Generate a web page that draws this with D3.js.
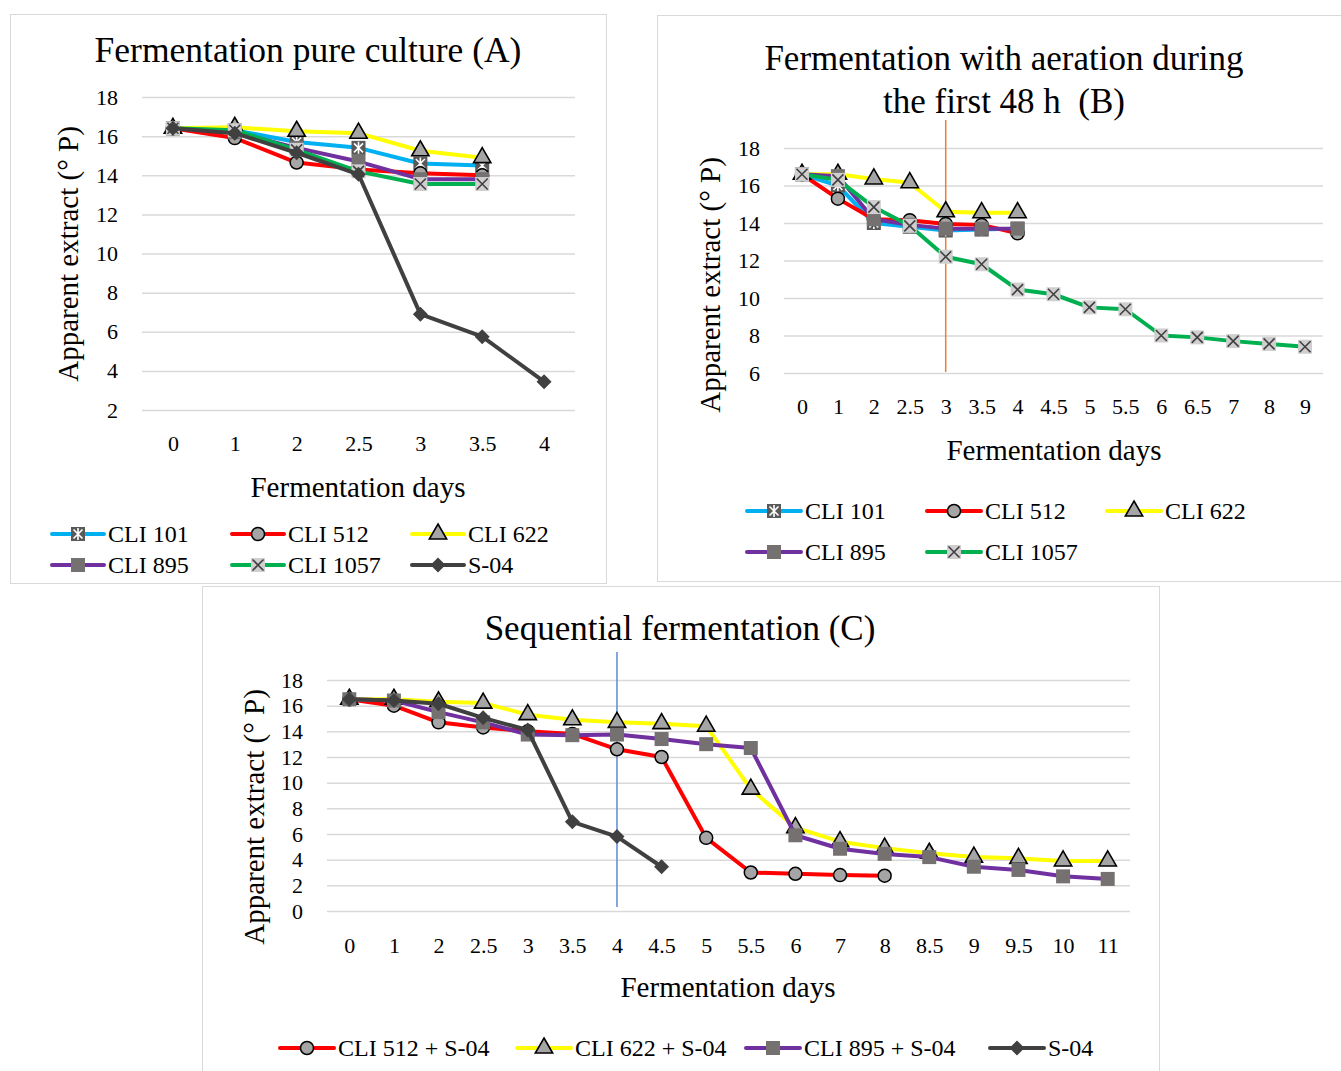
<!DOCTYPE html>
<html>
<head>
<meta charset="utf-8">
<script src="https://cdn.jsdelivr.net/npm/d3@7"></script>
<style>
  body { margin: 0; background: #fff; }
  svg { font-family: "Liberation Serif", "DejaVu Serif", serif; }
  text { white-space: pre; }
</style>
</head>
<body>
<svg id="chart" width="1341" height="1071"></svg>
<script>
// ---- data ----
const daysA = ['0', '1', '2', '2.5', '3', '3.5', '4'];
const a101 = [16.4, 16.3, 15.7, 15.4, 14.6, 14.5];
const a512 = [16.4, 15.9, 14.65, 14.3, 14.1, 14.0];
const a622 = [16.4, 16.45, 16.25, 16.15, 15.25, 14.9];
const a895 = [16.4, 16.2, 15.4, 14.7, 13.8, 13.8];
const a1057 = [16.4, 16.3, 15.3, 14.2, 13.55, 13.55];
const aS04 = [16.4, 16.15, 15.15, 14.05, 6.9, 5.75, 3.45];
const ticksA = [2, 4, 6, 8, 10, 12, 14, 16, 18];

const daysB = ['0', '1', '2', '2.5', '3', '3.5', '4', '4.5', '5', '5.5', '6', '6.5', '7', '8', '9'];
const b101 = [16.6, 16.0, 14.0, 13.8, 13.6, 13.65, 13.7];
const b512 = [16.6, 15.3, 14.2, 14.15, 13.95, 13.9, 13.45];
const b622 = [16.6, 16.6, 16.35, 16.15, 14.6, 14.55, 14.55];
const b895 = [16.6, 16.5, 14.2, 13.9, 13.7, 13.7, 13.7];
const b1057 = [16.6, 16.3, 14.85, 13.85, 12.2, 11.8, 10.45, 10.2, 9.5, 9.4, 8.0, 7.9, 7.7, 7.55, 7.4];
const ticksB = [6, 8, 10, 12, 14, 16, 18];

const daysC = ['0', '1', '2', '2.5', '3', '3.5', '4', '4.5', '5', '5.5', '6', '7', '8', '8.5', '9', '9.5', '10', '11'];
const c512 = [16.5, 16.0, 14.7, 14.3, 14.0, 13.8, 12.6, 12.0, 5.7, 3.0, 2.9, 2.8, 2.75];
const c622 = [16.5, 16.5, 16.3, 16.2, 15.3, 14.9, 14.7, 14.6, 14.4, 9.5, 6.5, 5.4, 4.9, 4.5, 4.2, 4.1, 3.9, 3.9];
const c895 = [16.5, 16.4, 15.5, 14.7, 13.75, 13.7, 13.75, 13.4, 13.0, 12.7, 5.9, 4.85, 4.45, 4.2, 3.45, 3.2, 2.7, 2.5];
const cS04 = [16.5, 16.4, 16.15, 15.05, 14.1, 6.95, 5.8, 3.45];
const ticksC = [0, 2, 4, 6, 8, 10, 12, 14, 16, 18];

// ---- styles per strain ----
const STYLE = {
  'CLI 101': { color: '#00b0f0', marker: 'star' },
  'CLI 512': { color: '#ff0000', marker: 'circle' },
  'CLI 622': { color: '#ffff00', marker: 'triangle' },
  'CLI 895': { color: '#7030a0', marker: 'square' },
  'CLI 1057': { color: '#00b050', marker: 'xbox' },
  'S-04': { color: '#404040', marker: 'diamond' }
};

const FONT = '"Liberation Serif", "DejaVu Serif", serif';
const svg = d3.select('#chart');

function drawMarker(g, type, x, y) {
  const m = g.append('g').attr('transform', `translate(${x},${y})`);
  if (type === 'circle') {
    m.append('circle').attr('r', 6.5).attr('fill', '#a5a5a5').attr('stroke', '#000').attr('stroke-width', 1.5);
  } else if (type === 'triangle') {
    m.append('path').attr('d', d3.symbol(d3.symbolTriangle, 130)())
      .attr('fill', '#a5a5a5').attr('stroke', '#000').attr('stroke-width', 1.6);
  } else if (type === 'square') {
    m.append('rect').attr('x', -7).attr('y', -7).attr('width', 14).attr('height', 14).attr('fill', '#767171');
  } else if (type === 'diamond') {
    m.append('path').attr('d', 'M0,-7.5L7.5,0L0,7.5L-7.5,0Z').attr('fill', '#404040');
  } else if (type === 'star') {
    m.append('rect').attr('x', -7).attr('y', -7).attr('width', 14).attr('height', 14).attr('fill', '#595959');
    m.append('path').attr('d', 'M-4.5,-4.5L4.5,4.5M4.5,-4.5L-4.5,4.5M0,-6L0,6')
      .attr('stroke', '#fff').attr('stroke-width', 1.6);
  } else if (type === 'xbox') {
    m.append('rect').attr('x', -7).attr('y', -7).attr('width', 14).attr('height', 14).attr('fill', '#d0cece');
    m.append('path').attr('d', 'M-5.5,-5.5L5.5,5.5M5.5,-5.5L-5.5,5.5')
      .attr('stroke', '#404040').attr('stroke-width', 1.6);
  }
}

function drawPanel(p) {
  const g = svg.append('g');
  g.append('rect')
    .attr('x', p.box[0] + 0.5).attr('y', p.box[1] + 0.5)
    .attr('width', p.box[2]).attr('height', p.box[3])
    .attr('fill', '#fff').attr('stroke', '#d9d9d9');

  const x = d3.scalePoint().domain(p.days).range([p.plot[0], p.plot[1]]).padding(0.5);
  const y = d3.scaleLinear().domain(p.yDomain).range([p.plot[3], p.plot[2]]);

  // gridlines + y labels
  const grid = g.append('g')
    .attr('transform', `translate(${p.plot[0]},0)`)
    .call(d3.axisLeft(y).tickValues(p.ticks).tickSize(-(p.plot[1] - p.plot[0])).tickPadding(24))
    .attr('font-family', FONT).attr('font-size', 22);
  grid.select('.domain').remove();
  grid.selectAll('line').attr('stroke', '#d9d9d9').attr('stroke-width', 1.5);
  grid.selectAll('text').attr('fill', '#000');

  // x labels
  const xa = g.append('g')
    .attr('transform', `translate(0,${p.plot[3]})`)
    .call(d3.axisBottom(x).tickSize(0).tickPadding(p.xPad))
    .attr('font-family', FONT).attr('font-size', 22);
  xa.select('.domain').remove();
  xa.selectAll('text').attr('fill', '#000');

  // reference line
  if (p.vline) {
    g.append('line')
      .attr('x1', x(p.vline.day)).attr('x2', x(p.vline.day))
      .attr('y1', p.vline.y[0]).attr('y2', p.vline.y[1])
      .attr('stroke', p.vline.color).attr('stroke-width', 1.5);
  }

  // titles
  p.title.forEach((t, i) => {
    g.append('text').attr('x', p.titlePos[0]).attr('y', p.titlePos[1] + i * 43)
      .attr('text-anchor', 'middle').attr('font-size', p.titleSize).text(t);
  });
  g.append('text')
    .attr('transform', `translate(${p.yLabelPos[0]},${p.yLabelPos[1]}) rotate(-90)`)
    .attr('text-anchor', 'middle').attr('font-size', 29).text('Apparent extract (° P)');
  g.append('text').attr('x', p.xLabelPos[0]).attr('y', p.xLabelPos[1])
    .attr('text-anchor', 'middle').attr('font-size', 29).text('Fermentation days');

  // series
  const line = d3.line().x((d, i) => x(p.days[i])).y(d => y(d));
  p.series.forEach(s => {
    const st = STYLE[s.style];
    g.append('path').datum(s.values).attr('d', line)
      .attr('fill', 'none').attr('stroke', st.color).attr('stroke-width', 4)
      .attr('stroke-linejoin', 'round').attr('stroke-linecap', 'round');
    const mg = g.append('g');
    s.values.forEach((v, i) => drawMarker(mg, st.marker, x(p.days[i]), y(v)));
  });

  // legend
  p.series.forEach((s, i) => {
    const st = STYLE[s.style];
    const [lx, ly] = p.legend[i];
    const lg = g.append('g');
    lg.append('line').attr('x1', lx).attr('x2', lx + p.legendLen).attr('y1', ly).attr('y2', ly)
      .attr('stroke', st.color).attr('stroke-width', 4).attr('stroke-linecap', 'round');
    drawMarker(lg, st.marker, lx + p.legendLen / 2, ly);
    lg.append('text').attr('x', lx + p.legendLen + 4).attr('y', ly + 8)
      .attr('font-size', 24).text(s.label);
  });
}

drawPanel({
  box: [10, 14, 596, 569],
  plot: [142, 575, 97, 410],
  days: daysA, yDomain: [2, 18], ticks: ticksA, xPad: 25,
  title: ['Fermentation pure culture (A)'], titlePos: [308, 62], titleSize: 35.5,
  yLabelPos: [78, 254], xLabelPos: [358, 497],
  series: [
    { label: 'CLI 101', style: 'CLI 101', values: a101 },
    { label: 'CLI 512', style: 'CLI 512', values: a512 },
    { label: 'CLI 622', style: 'CLI 622', values: a622 },
    { label: 'CLI 895', style: 'CLI 895', values: a895 },
    { label: 'CLI 1057', style: 'CLI 1057', values: a1057 },
    { label: 'S-04', style: 'S-04', values: aS04 }
  ],
  legend: [[52, 534], [232, 534], [412, 534], [52, 565], [232, 565], [412, 565]],
  legendLen: 52
});

drawPanel({
  box: [657, 15, 684, 566],
  plot: [784, 1323, 148, 373],
  days: daysB, yDomain: [6, 18], ticks: ticksB, xPad: 25,
  title: ['Fermentation with aeration during', 'the first 48 h  (B)'], titlePos: [1004, 70], titleSize: 35,
  yLabelPos: [720, 285], xLabelPos: [1054, 460],
  vline: { day: '3', y: [120, 372], color: '#ed7d31' },
  series: [
    { label: 'CLI 101', style: 'CLI 101', values: b101 },
    { label: 'CLI 512', style: 'CLI 512', values: b512 },
    { label: 'CLI 622', style: 'CLI 622', values: b622 },
    { label: 'CLI 895', style: 'CLI 895', values: b895 },
    { label: 'CLI 1057', style: 'CLI 1057', values: b1057 }
  ],
  legend: [[747, 511], [927, 511], [1107, 511], [747, 552], [927, 552]],
  legendLen: 54
});

drawPanel({
  box: [202, 586, 957, 500],
  plot: [327, 1130, 680, 911],
  days: daysC, yDomain: [0, 18], ticks: ticksC, xPad: 26,
  title: ['Sequential fermentation (C)'], titlePos: [680, 640], titleSize: 35,
  yLabelPos: [264, 817], xLabelPos: [728, 997],
  vline: { day: '4', y: [652, 907], color: '#5b8bd6' },
  series: [
    { label: 'CLI 512 + S-04', style: 'CLI 512', values: c512 },
    { label: 'CLI 622 + S-04', style: 'CLI 622', values: c622 },
    { label: 'CLI 895 + S-04', style: 'CLI 895', values: c895 },
    { label: 'S-04', style: 'S-04', values: cS04 }
  ],
  legend: [[280, 1048], [517, 1048], [746, 1048], [990, 1048]],
  legendLen: 54
});
</script>
</body>
</html>
